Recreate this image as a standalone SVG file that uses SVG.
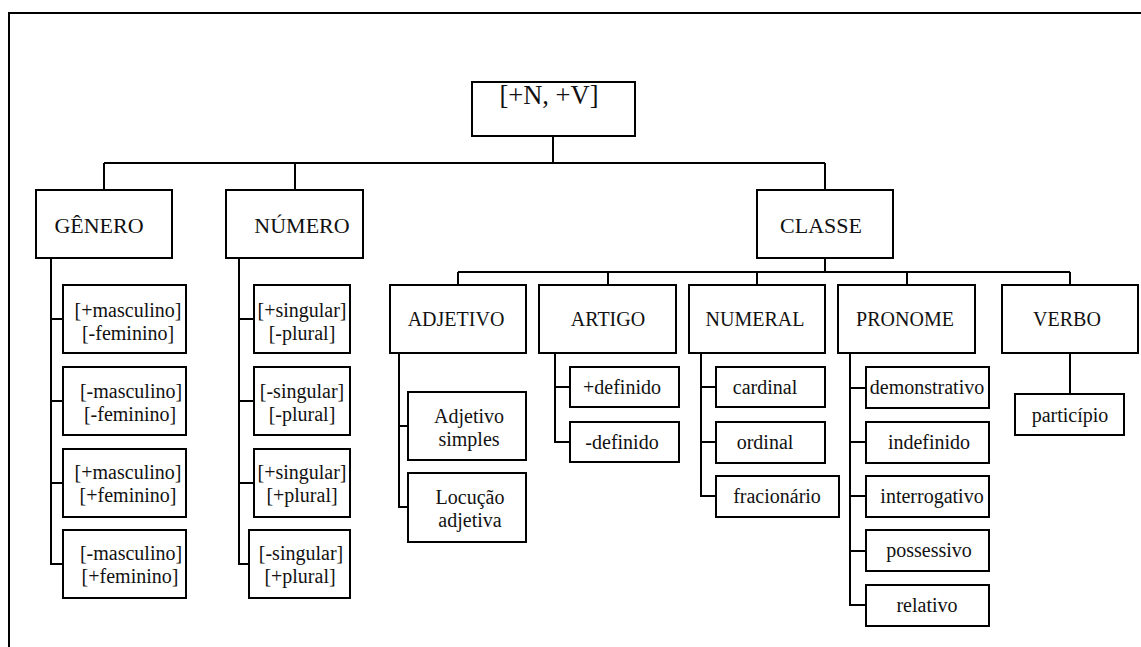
<svg xmlns="http://www.w3.org/2000/svg" width="1141" height="647" viewBox="0 0 1141 647">
  <style>
    .box { fill: #fff; stroke: #000; stroke-width: 2; }
    .ln { fill: none; stroke: #000; stroke-width: 2; }
    text { font-family: "Liberation Serif", "Times New Roman", serif; fill: #111; text-anchor: middle; }
    .t1 { font-size: 26.5px; }
    .t2 { font-size: 22px; }
    .t3 { font-size: 20px; }
  </style>
  <rect width="1141" height="647" fill="#fff"/>

  <!-- page frame -->
  <path class="ln" d="M9,647 V13 H1141"/>

  <g id="connectors">
    <!-- root to first level -->
    <path class="ln" d="M553,136 V163 M104,163 H825 M104,163 V190 M295,163 V190 M825,163 V190"/>
    <!-- CLASSE to word classes -->
    <path class="ln" d="M825,258 V272 M458,272 H1070 M458,272 V285 M608,272 V285 M757,272 V285 M907,272 V285 M1070,272 V285"/>
    <!-- GÊNERO features -->
    <path class="ln" d="M51,258 V564 H63 M51,319 H63 M51,401 H63 M51,483 H63"/>
    <!-- NÚMERO features -->
    <path class="ln" d="M239,258 V564 H249 M239,319 H254 M239,401 H254 M239,483 H254"/>
    <!-- ADJETIVO -->
    <path class="ln" d="M399,353 V507 H408 M399,426 H408"/>
    <!-- ARTIGO -->
    <path class="ln" d="M555,353 V442 H570 M555,387 H570"/>
    <!-- NUMERAL -->
    <path class="ln" d="M701,353 V496 H716 M701,387 H716 M701,442 H716"/>
    <!-- PRONOME -->
    <path class="ln" d="M850,353 V605 H866 M850,388 H866 M850,442 H866 M850,496 H866 M850,551 H866"/>
    <!-- VERBO -->
    <path class="ln" d="M1070,353 V394"/>
  </g>

  <g id="root">
    <rect class="box" x="472" y="82" width="163" height="54"/>
    <text class="t1" x="549" y="104">[+N, +V]</text>
  </g>

  <g id="genero">
    <rect class="box" x="36" y="190" width="136" height="68"/>
    <text class="t2" x="99" y="233">GÊNERO</text>
  </g>
  <g id="numero">
    <rect class="box" x="226" y="190" width="137" height="68"/>
    <text class="t2" x="302" y="233">NÚMERO</text>
  </g>
  <g id="classe">
    <rect class="box" x="757" y="190" width="136" height="68"/>
    <text class="t2" x="821" y="233">CLASSE</text>
  </g>

  <g id="genero-1">
    <rect class="box" x="63" y="285" width="123" height="68"/>
    <text class="t3" x="128" y="317">[+masculino]</text>
    <text class="t3" x="128" y="340">[-feminino]</text>
  </g>
  <g id="genero-2">
    <rect class="box" x="63" y="367" width="123" height="68"/>
    <text class="t3" x="131" y="398">[-masculino]</text>
    <text class="t3" x="130" y="421">[-feminino]</text>
  </g>
  <g id="genero-3">
    <rect class="box" x="63" y="449" width="123" height="68"/>
    <text class="t3" x="128" y="479">[+masculino]</text>
    <text class="t3" x="128" y="502">[+feminino]</text>
  </g>
  <g id="genero-4">
    <rect class="box" x="63" y="530" width="123" height="68"/>
    <text class="t3" x="131" y="560">[-masculino]</text>
    <text class="t3" x="130" y="583">[+feminino]</text>
  </g>

  <g id="numero-1">
    <rect class="box" x="254" y="285" width="96" height="68"/>
    <text class="t3" x="302" y="317">[+singular]</text>
    <text class="t3" x="302" y="340">[-plural]</text>
  </g>
  <g id="numero-2">
    <rect class="box" x="254" y="367" width="96" height="68"/>
    <text class="t3" x="302" y="398">[-singular]</text>
    <text class="t3" x="302" y="421">[-plural]</text>
  </g>
  <g id="numero-3">
    <rect class="box" x="254" y="449" width="96" height="68"/>
    <text class="t3" x="302" y="479">[+singular]</text>
    <text class="t3" x="302" y="502">[+plural]</text>
  </g>
  <g id="numero-4">
    <rect class="box" x="249" y="530" width="101" height="68"/>
    <text class="t3" x="301" y="560">[-singular]</text>
    <text class="t3" x="300" y="583">[+plural]</text>
  </g>

  <g id="adjetivo">
    <rect class="box" x="390" y="285" width="136" height="68"/>
    <text class="t3" x="456" y="326">ADJETIVO</text>
  </g>
  <g id="artigo">
    <rect class="box" x="539" y="285" width="137" height="68"/>
    <text class="t3" x="608" y="326">ARTIGO</text>
  </g>
  <g id="numeral">
    <rect class="box" x="689" y="285" width="136" height="68"/>
    <text class="t3" x="755" y="326">NUMERAL</text>
  </g>
  <g id="pronome">
    <rect class="box" x="838" y="285" width="137" height="68"/>
    <text class="t3" x="905" y="326">PRONOME</text>
  </g>
  <g id="verbo">
    <rect class="box" x="1002" y="285" width="136" height="68"/>
    <text class="t3" x="1067" y="326">VERBO</text>
  </g>

  <g id="adjetivo-simples">
    <rect class="box" x="408" y="392" width="118" height="68"/>
    <text class="t3" x="469" y="423">Adjetivo</text>
    <text class="t3" x="469" y="446">simples</text>
  </g>
  <g id="locucao-adjetiva">
    <rect class="box" x="408" y="473" width="118" height="69"/>
    <text class="t3" x="470" y="504">Locução</text>
    <text class="t3" x="470" y="527">adjetiva</text>
  </g>

  <g id="definido-mais">
    <rect class="box" x="570" y="367" width="109" height="40"/>
    <text class="t3" x="622" y="394">+definido</text>
  </g>
  <g id="definido-menos">
    <rect class="box" x="570" y="422" width="109" height="40"/>
    <text class="t3" x="622" y="449">-definido</text>
  </g>

  <g id="cardinal">
    <rect class="box" x="716" y="367" width="109" height="40"/>
    <text class="t3" x="765" y="394">cardinal</text>
  </g>
  <g id="ordinal">
    <rect class="box" x="716" y="422" width="109" height="41"/>
    <text class="t3" x="765" y="449">ordinal</text>
  </g>
  <g id="fracionario">
    <rect class="box" x="716" y="476" width="123" height="41"/>
    <text class="t3" x="777" y="503">fracionário</text>
  </g>

  <g id="demonstrativo">
    <rect class="box" x="866" y="367" width="123" height="41"/>
    <text class="t3" x="927" y="394">demonstrativo</text>
  </g>
  <g id="indefinido">
    <rect class="box" x="866" y="422" width="123" height="41"/>
    <text class="t3" x="929" y="449">indefinido</text>
  </g>
  <g id="interrogativo">
    <rect class="box" x="866" y="476" width="123" height="41"/>
    <text class="t3" x="932" y="503">interrogativo</text>
  </g>
  <g id="possessivo">
    <rect class="box" x="866" y="530" width="123" height="41"/>
    <text class="t3" x="929" y="557">possessivo</text>
  </g>
  <g id="relativo">
    <rect class="box" x="866" y="585" width="123" height="41"/>
    <text class="t3" x="927" y="612">relativo</text>
  </g>

  <g id="participio">
    <rect class="box" x="1015" y="394" width="109" height="41"/>
    <text class="t3" x="1070" y="422">particípio</text>
  </g>
</svg>
